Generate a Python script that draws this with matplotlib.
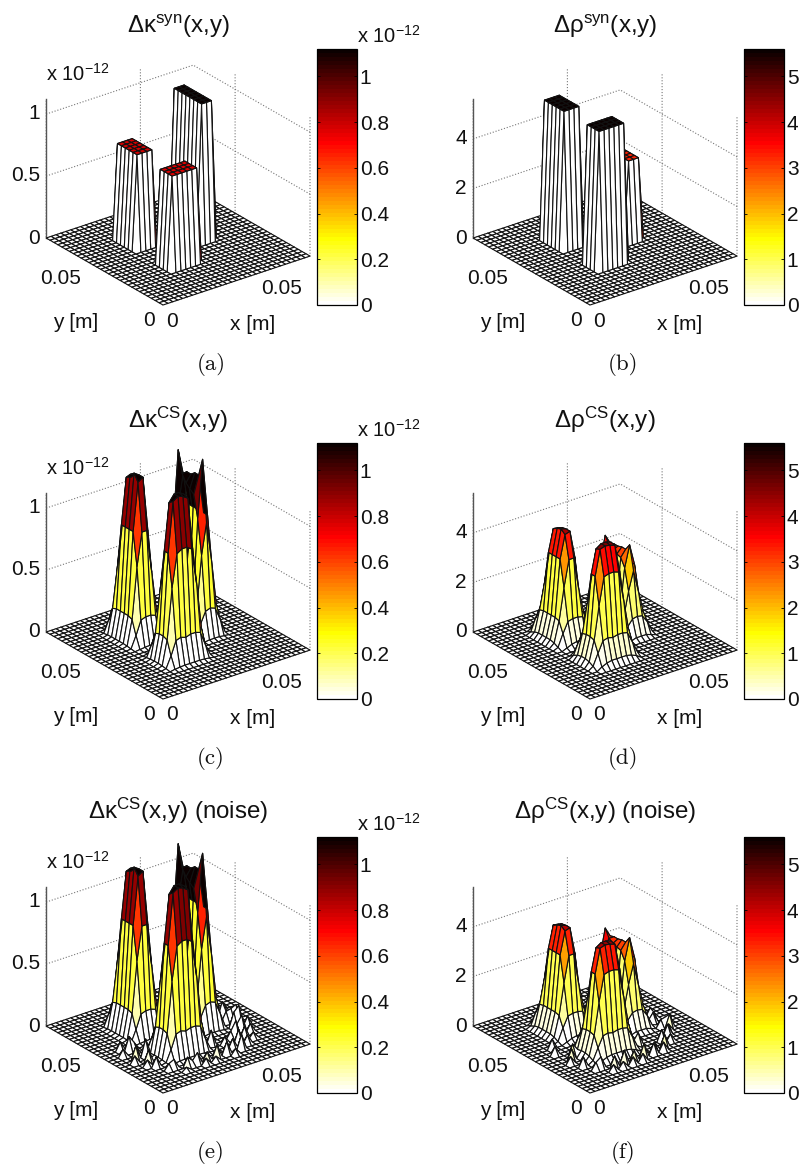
import numpy as np
import matplotlib
matplotlib.use('Agg')
from matplotlib import pyplot as plt
from matplotlib.cm import ScalarMappable
from matplotlib.colors import Normalize
from mpl_toolkits.mplot3d import proj3d

W, H = 800, 1165

plt.rcParams['font.family'] = ['Liberation Sans', 'DejaVu Sans']
plt.rcParams['mathtext.fontset'] = 'custom'
plt.rcParams['mathtext.rm'] = 'Liberation Sans'
plt.rcParams['mathtext.default'] = 'rm'
plt.rcParams['grid.linestyle'] = ':'
plt.rcParams['grid.color'] = '#777777'
plt.rcParams['grid.linewidth'] = 0.8

# grid nodes, 2.6 mm apart
x_nodes = np.arange(31) * 0.0026
y_nodes = np.arange(31) * 0.0026

# synthetic blocks: first x node, last x node, first y node, last y node
blocks = {'front': (9, 14, 9, 12), 'left': (9, 12, 18, 23), 'back': (19, 21, 14, 21)}
kappa_block_heights = {'front': 0.76, 'left': 0.77, 'back': 1.12}
rho_block_heights = {'front': 5.6, 'left': 5.6, 'back': 3.3}

# reconstructed bumps, stamp levels, rows go up in y
front_bump_origin = (7, 7)
front_bump = [
    [0, 3, 5, 6, 6, 6, 6, 5, 3, 0],
    [3, 12, 20, 21, 20, 21, 21, 20, 12, 3],
    [5, 20, 50, 68, 70, 70, 68, 48, 20, 5],
    [6, 21, 68, 98, 100, 99, 97, 66, 21, 6],
    [6, 21, 68, 96, 100, 100, 98, 66, 21, 6],
    [5, 20, 46, 66, 68, 68, 66, 44, 20, 5],
    [3, 12, 20, 21, 20, 20, 21, 18, 10, 3],
    [0, 3, 5, 6, 6, 6, 6, 5, 3, 0],
]
left_bump_origin = (7, 16)
left_bump = [
    [0, 2, 4, 5, 5, 4, 2, 0],
    [2, 12, 20, 21, 21, 20, 12, 2],
    [4, 20, 50, 68, 68, 44, 20, 4],
    [5, 21, 68, 96, 98, 66, 21, 5],
    [5, 21, 68, 100, 98, 66, 21, 5],
    [5, 21, 68, 98, 97, 66, 21, 5],
    [5, 21, 68, 95, 94, 66, 21, 5],
    [4, 20, 44, 66, 66, 42, 20, 4],
    [2, 12, 20, 21, 21, 20, 12, 2],
    [0, 2, 4, 5, 5, 4, 2, 0],
]
back_bump_origin = (17, 12)
back_bump = [
    [0, 2, 4, 4, 4, 2, 0],
    [3, 14, 20, 21, 20, 13, 2],
    [5, 21, 50, 66, 46, 20, 4],
    [5, 21, 68, 100, 68, 21, 5],
    [5, 21, 80, 90, 68, 21, 5],
    [5, 21, 82, 90, 68, 21, 5],
    [5, 21, 84, 88, 68, 21, 5],
    [5, 21, 88, 88, 68, 21, 5],
    [5, 21, 100, 86, 68, 21, 5],
    [5, 21, 66, 70, 66, 21, 5],
    [4, 21, 46, 64, 46, 20, 4],
    [3, 13, 20, 21, 20, 13, 2],
    [0, 2, 4, 4, 4, 2, 0],
]

# height share of the peak at each stamp level
stamp_levels = [0, 6, 21, 50, 68, 100]
kappa_shares = [0, 0.012, 0.17, 0.47, 0.67, 1]
rho_shares = [0, 0.06, 0.24, 0.52, 0.76, 1]

kappa_cs_peaks = {'front': 1.31, 'left': 1.33, 'back': 1.40}
rho_cs_peaks = {'front': 4.55, 'left': 4.4, 'back': 3.55}
kappa_noise_peaks = {'front': 1.33, 'left': 1.33, 'back': 1.40}
rho_noise_peaks = {'front': 4.35, 'left': 4.3, 'back': 3.6}

# little noise spikes: x node, y node, height
kappa_noise = [
    (17, 5, .10), (18, 4, .05), (19, 6, .08), (20, 5, .12), (21, 7, .11), (22, 6, .07), (19, 8, .06), (23, 8, .09),
    (24, 7, .05), (22, 9, .13), (23, 10, .07), (24, 10, .13), (25, 9, .07), (26, 11, .08), (25, 12, .16), (24, 12, .12),
    (24, 14, .09), (26, 14, .12), (25, 14, .10), (24, 15, .15), (25, 16, .06), (24, 17, .09), (26, 17, .07), (21, 9, .06),
    (15, 5, .10), (14, 4, .04), (13, 5, .07), (12, 4, .05), (11, 5, .09), (10, 5, .04), (9, 5, .08), (8, 4, .03),
    (7, 6, .07), (6, 6, .05), (5, 8, .08), (4, 9, .05), (5, 10, .10), (3, 11, .06), (4, 12, .11), (5, 13, .07),
    (6, 12, .14), (3, 14, .06), (5, 15, .12), (6, 15, .06), (4, 16, .07), (17, 9, .12), (16, 11, .09), (15, 15, .13),
]
rho_noise = [
    (17, 5, .45), (18, 6, .3), (19, 5, .35), (20, 6, .5), (21, 8, .45), (22, 7, .3), (23, 9, .45), (24, 10, .3),
    (25, 11, .55), (25, 12, .35), (24, 14, .4), (25, 16, .35), (25, 15, .25), (24, 12, .3), (15, 5, .55), (14, 4, .3),
    (13, 5, .4), (12, 4, .3), (11, 5, .55), (10, 4, .25), (9, 5, .45), (8, 4, .25), (7, 6, .45), (6, 6, .3),
    (5, 8, .4), (4, 10, .3), (5, 11, .45), (6, 12, .5), (4, 14, .35), (5, 16, .4), (17, 9, .5), (16, 12, .4),
    (15, 16, .45), (14, 16, .3),
]

kappa_ticks = [0, 0.2, 0.4, 0.6, 0.8, 1]
kappa_tick_labels = ['0', '0.2', '0.4', '0.6', '0.8', '1']
rho_ticks = [0, 1, 2, 3, 4, 5]
rho_tick_labels = ['0', '1', '2', '3', '4', '5']
kappa_max = 1.12
rho_max = 5.6

cmap = plt.get_cmap('hot_r', 64)


def block_surface(heights):
    z = np.zeros((31, 31))
    for name, (x0, x1, y0, y1) in blocks.items():
        z[y0:y1 + 1, x0:x1 + 1] = heights[name]
    return z


def bump_surface(peaks, shares, noise=()):
    z = np.zeros((31, 31))
    for ix, iy, h in noise:
        z[iy, ix] = h
    for name, stamp, (ox, oy) in [('left', left_bump, left_bump_origin),
                                  ('back', back_bump, back_bump_origin),
                                  ('front', front_bump, front_bump_origin)]:
        stamp = np.interp(np.array(stamp), stamp_levels, shares) * peaks[name]
        part = z[oy:oy + stamp.shape[0], ox:ox + stamp.shape[1]]
        part[:] = np.maximum(part, stamp)
    return z


def to_px(ax, x, y, z):
    xs, ys, _ = proj3d.proj_transform(x, y, z, ax.get_proj())
    return ax.transData.transform((xs, ys))


def put_axes(ax, front, run):
    # fit the axes box so the floor corner lands where it should
    size = 400.0
    for _ in range(2):
        ax.set_position([0.1, 0.1, size / W, size / H])
        ax.apply_aspect()
        p0 = to_px(ax, 0, 0, 0)
        p1 = to_px(ax, x_nodes[-1], 0, 0)
        size *= run / (p1[0] - p0[0])
    ax.set_position([0.1, 0.1, size / W, size / H])
    ax.apply_aspect()
    p0 = to_px(ax, 0, 0, 0)
    left = 0.1 + (front[0] - p0[0]) / W
    bottom = 0.1 + (H - front[1] - p0[1]) / H
    ax.set_position([left, bottom, size / W, size / H])


def label(fig, x, y, s, size=15, **kw):
    kw.setdefault('ha', 'center')
    kw.setdefault('va', 'center')
    fig.text(x / W, 1 - y / H, s, fontsize=size, color='#111111', **kw)


def panel(fig, z, zmax, zticks, zlabels, cbar_ticks, cbar_labels, dx, dy, title, caption, cap_x, has_exp, title_y=26):
    ax = fig.add_subplot(projection='3d', proj_type='ortho', computed_zorder=True)
    ax.view_init(elev=25.9, azim=-127.3)
    ax.set_xlim(x_nodes[0], x_nodes[-1])
    ax.set_ylim(y_nodes[0], y_nodes[-1])
    ax.set_zlim(0, zmax)
    ax.set_box_aspect((185, 193, 154.5))
    ax.patch.set_alpha(0)
    ax.set_xticks([0, 0.05], labels=['', ''])
    ax.set_yticks([0, 0.05], labels=['', ''])
    ax.set_zticks(zticks, labels=[''] * len(zticks))
    ax.tick_params(color='none')
    for axis in (ax.xaxis, ax.yaxis, ax.zaxis):
        axis.set_pane_color((1, 1, 1, 0))
        axis.pane.set_edgecolor('none')
        axis.line.set_color('none')

    xx, yy = np.meshgrid(x_nodes, y_nodes)
    faces = cmap(Normalize(0, zmax)(z))
    ax.plot_surface(xx, yy, z, rstride=1, cstride=1, facecolors=faces, edgecolor='#111111',
                    linewidth=0.8, shade=False, antialiased=True)
    ax.plot([0, 0], [y_nodes[-1], y_nodes[-1]], [0, zmax], color='#555555', lw=1.0)
    put_axes(ax, (163 + dx, 305 + dy), 147)

    # tick labels sit in figure pixels like the original layout
    for tick, text in zip(zticks, zlabels):
        label(fig, 40 + dx, 238 + dy - tick / zmax * 139, text, ha='right')
    label(fig, 61 + dx, 278 + dy, '0.05')
    label(fig, 76 + dx, 322 + dy, 'y [m]')
    label(fig, 149 + dx, 320 + dy, '0')
    label(fig, 172 + dx, 321 + dy, '0')
    label(fig, 282 + dx, 289 + dy, '0.05')
    label(fig, 253 + dx, 325 + dy, 'x [m]')
    label(fig, 178 + dx, title_y + dy, title, size=17.4)
    label(fig, cap_x, 365 + dy, caption, size=16.5, family='cmr10')

    cax = fig.add_axes([(317 + dx) / W, 1 - (305 + dy) / H, 40 / W, 256 / H])
    sm = ScalarMappable(norm=Normalize(0, zmax), cmap=cmap)
    bar = fig.colorbar(sm, cax=cax, ticks=cbar_ticks)
    bar.set_ticklabels(cbar_labels)
    bar.outline.set_linewidth(0.9)
    cax.tick_params(direction='in', left=True, right=True, length=2.5, width=0.6,
                    labelsize=15, pad=2, labelcolor='#111111')
    if has_exp:
        label(fig, 46 + dx, 74 + dy, 'x 10$^{-12}$', ha='left', size=14.5)
        label(fig, 357 + dx, 36 + dy, 'x 10$^{-12}$', ha='left', size=14.5)


if __name__ == '__main__':
    fig = plt.figure(figsize=(W / 100, H / 100), dpi=100)

    panel(fig, block_surface(kappa_block_heights), kappa_max, [0, 0.5, 1], ['0', '0.5', '1'],
          kappa_ticks, kappa_tick_labels, 0, 0, 'Δκ$^{syn}$(x,y)', '(a)', 211, True)
    panel(fig, block_surface(rho_block_heights), rho_max, [0, 2, 4], ['0', '2', '4'],
          rho_ticks, rho_tick_labels, 427, 0, 'Δρ$^{syn}$(x,y)', '(b)', 623, False)
    panel(fig, bump_surface(kappa_cs_peaks, kappa_shares), kappa_max, [0, 0.5, 1], ['0', '0.5', '1'],
          kappa_ticks, kappa_tick_labels, 0, 394, 'Δκ$^{CS}$(x,y)', '(c)', 211, True)
    panel(fig, bump_surface(rho_cs_peaks, rho_shares), rho_max, [0, 2, 4], ['0', '2', '4'],
          rho_ticks, rho_tick_labels, 427, 394, 'Δρ$^{CS}$(x,y)', '(d)', 623, False)
    panel(fig, bump_surface(kappa_noise_peaks, kappa_shares, kappa_noise), kappa_max, [0, 0.5, 1], ['0', '0.5', '1'],
          kappa_ticks, kappa_tick_labels, 0, 788, 'Δκ$^{CS}$(x,y) (noise)', '(e)', 211, True, title_y=23)
    panel(fig, bump_surface(rho_noise_peaks, rho_shares, rho_noise), rho_max, [0, 2, 4], ['0', '2', '4'],
          rho_ticks, rho_tick_labels, 427, 788, 'Δρ$^{CS}$(x,y) (noise)', '(f)', 623, False, title_y=23)

    fig.savefig('out.png', dpi=100)
